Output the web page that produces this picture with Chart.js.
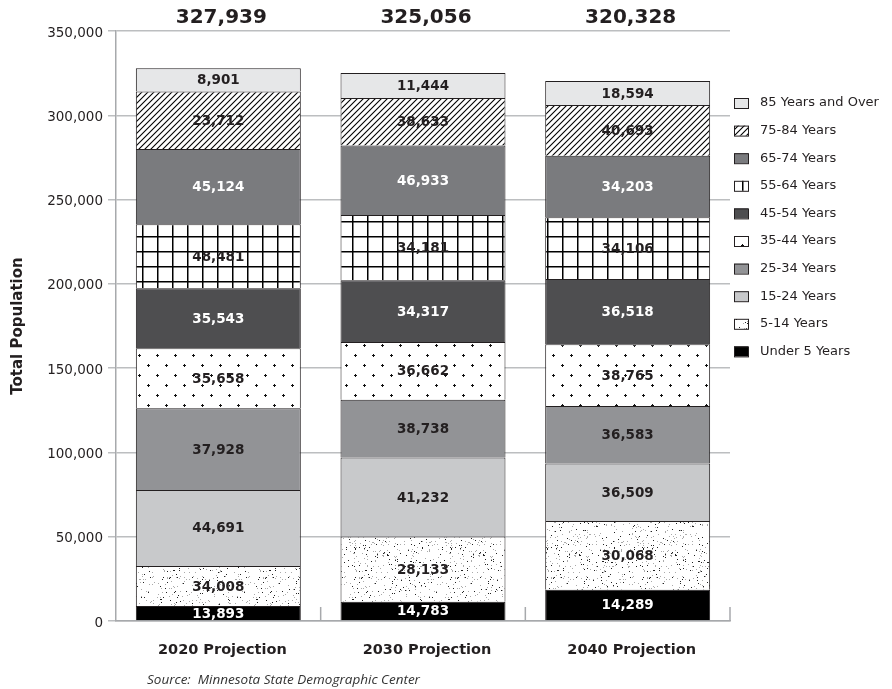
<!DOCTYPE html>
<html>
<head>
<meta charset="utf-8">
<script src="https://cdn.jsdelivr.net/npm/chart.js@4.4.1/dist/chart.umd.min.js"></script>
<style>
  body { margin: 0; background: #fff; }
  canvas { display: block; }
</style>
</head>
<body>
<canvas id="myChart" width="892" height="689"></canvas>
<script>
// categories
var years = ['2020 Projection', '2030 Projection', '2040 Projection'];
var ageGroups = ['Under 5 Years', '5-14 Years', '15-24 Years', '25-34 Years', '35-44 Years',
                 '45-54 Years', '55-64 Years', '65-74 Years', '75-84 Years', '85 Years and Over'];

// values printed in the segments (2020, 2030, 2040)
var under5   = [13893, 14783, 14289];
var age5_14  = [34008, 28133, 30068];
var age15_24 = [44691, 41232, 36509];
var age25_34 = [37928, 38738, 36583];
var age35_44 = [35658, 36662, 38765];
var age45_54 = [35543, 34317, 36518];
var age55_64 = [48481, 34181, 34106];
var age65_74 = [45124, 46933, 34203];
var age75_84 = [23712, 38633, 40693];
var age85up  = [8901, 11444, 18594];
var totals   = [327939, 325056, 320328];

var yTicks = [0, 50000, 100000, 150000, 200000, 250000, 300000, 350000];

var series = [under5, age5_14, age15_24, age25_34, age35_44, age45_54, age55_64, age65_74, age75_84, age85up];

var FONT = "'DejaVu Sans', sans-serif";
var INK = '#231f20';

// --- fill patterns ---
function tile(w, h, draw) {
    var c = document.createElement('canvas');
    c.width = w; c.height = h;
    var g = c.getContext('2d');
    g.fillStyle = '#fff';
    g.fillRect(0, 0, w, h);
    draw(g);
    return document.createElement('canvas').getContext('2d').createPattern(c, 'repeat');
}

var stipple = tile(96, 96, function (g) {
    var s = 12345;
    function rnd() { s = (s * 1103515245 + 12345) % 2147483648; return s / 2147483648; }
    for (var i = 0; i < 560; i++) {
        var x = Math.floor(rnd() * 96), y = Math.floor(rnd() * 96);
        g.fillStyle = rnd() < 0.35 ? '#222' : '#aaa';
        g.fillRect(x, y, 1, 1);
    }
});

var crosses = tile(18, 20, function (g) {
    g.strokeStyle = '#111';
    g.lineWidth = 1;
    [[4.5, 5.5], [13.5, 15.5]].forEach(function (p) {
        g.beginPath();
        g.moveTo(p[0] - 1.5, p[1]); g.lineTo(p[0] + 1.5, p[1]);
        g.moveTo(p[0], p[1] - 1.5); g.lineTo(p[0], p[1] + 1.5);
        g.stroke();
    });
});

var gridFill = tile(15, 15, function (g) {
    g.fillStyle = '#000';
    g.fillRect(7, 0, 1.5, 15);
    g.fillRect(0, 11, 15, 1.5);
});

var hatch = tile(6, 6, function (g) {
    g.strokeStyle = '#000';
    g.lineWidth = 1.1;
    g.beginPath();
    g.moveTo(0, 6); g.lineTo(6, 0);
    g.moveTo(-1, 1); g.lineTo(1, -1);
    g.moveTo(5, 7); g.lineTo(7, 5);
    g.stroke();
});

var fills = ['#000000', stipple, '#c8c9cb', '#929396', crosses,
             '#4e4e50', gridFill, '#7a7b7e', hatch, '#e6e7e8'];
var labelColors = ['#fff', INK, INK, INK, INK, '#fff', INK, '#fff', INK, INK];

// the source graphic stacks each segment at the height of its mirror-image group
// (top group's value at the bottom), while the printed numbers follow the legend order
var datasets = ageGroups.map(function (name, i) {
    return {
        label: name,
        data: series[series.length - 1 - i],
        backgroundColor: fills[i],
        borderColor: INK,
        borderWidth: 1,
        barPercentage: 0.806,
        categoryPercentage: 1
    };
});

var segmentLabels = {
    id: 'segmentLabels',
    afterDatasetsDraw: function (chart) {
        var ctx = chart.ctx;
        ctx.save();
        ctx.textAlign = 'center';
        ctx.textBaseline = 'middle';
        ctx.font = 'bold 13.5px ' + FONT;
        chart.data.datasets.forEach(function (ds, i) {
            chart.getDatasetMeta(i).data.forEach(function (bar, j) {
                ctx.fillStyle = labelColors[i];
                ctx.fillText(series[i][j].toLocaleString('en-US'), bar.x, (bar.y + bar.base) / 2 + 1);
            });
        });
        // totals above the bars
        ctx.font = 'bold 20px ' + FONT;
        ctx.fillStyle = INK;
        var meta = chart.getDatasetMeta(0);
        meta.data.forEach(function (bar, j) {
            ctx.fillText(totals[j].toLocaleString('en-US'), bar.x + 3, 18);
        });
        ctx.restore();
    }
};

var extras = {
    id: 'extras',
    afterDraw: function (chart) {
        var ctx = chart.ctx, a = chart.chartArea;
        ctx.save();
        // short category dividers on the x axis
        ctx.strokeStyle = '#a7a9ac';
        ctx.lineWidth = 1.5;
        for (var k = 1; k <= 3; k++) {
            var x = a.left + k * (a.right - a.left) / 3;
            ctx.beginPath();
            ctx.moveTo(x, a.bottom);
            ctx.lineTo(x, a.bottom - 14);
            ctx.stroke();
        }
        // legend, top group first
        ctx.font = '13px ' + FONT;
        ctx.textBaseline = 'middle';
        ctx.textAlign = 'left';
        for (var i = ageGroups.length - 1, n = 0; i >= 0; i--, n++) {
            var y = 103 + n * 27.6;
            ctx.fillStyle = fills[i];
            ctx.fillRect(734, y - 5, 14, 10);
            ctx.strokeStyle = INK;
            ctx.lineWidth = 1;
            ctx.strokeRect(734.5, y - 4.5, 14, 10);
            ctx.fillStyle = INK;
            ctx.fillText(ageGroups[i], 760, y);
        }
        // source note
        ctx.font = 'italic 13.5px "Open Sans", sans-serif';
        ctx.fillStyle = '#333';
        ctx.fillText('Source:  Minnesota State Demographic Center', 147, 680);
        ctx.restore();
    }
};

var ctx = document.getElementById('myChart');

var myChart = new Chart(ctx, {
    type: 'bar',
    data: {
        labels: years,
        datasets: datasets
    },
    options: {
        responsive: false,
        animation: false,
        layout: { padding: { top: 31, right: 162, bottom: 0, left: 0 } },
        plugins: {
            legend: { display: false },
            tooltip: { enabled: false }
        },
        scales: {
            x: {
                stacked: true,
                grid: { display: false },
                border: { color: '#a7a9ac', width: 1.5 },
                ticks: { color: INK, font: { family: FONT, size: 14.5, weight: 'bold' }, padding: 13, labelOffset: 4 },
                afterFit: function (s) { s.height = 68; }
            },
            y: {
                stacked: true,
                min: 0,
                max: 350000,
                afterBuildTicks: function (s) { s.ticks = yTicks.map(function (v) { return { value: v }; }); },
                ticks: {
                    color: INK,
                    font: { family: FONT, size: 13.5 },
                    padding: 5,
                    labelOffset: 2,
                    callback: function (v) { return v.toLocaleString('en-US'); }
                },
                grid: { color: '#bcbec0', lineWidth: 1.5, tickLength: 8 },
                border: { color: '#a7a9ac', width: 1.5 },
                title: {
                    display: true,
                    text: 'Total Population',
                    color: INK,
                    font: { family: FONT, size: 15, weight: 'bold' },
                    padding: { top: 9, bottom: 0 }
                },
                afterFit: function (s) { s.width = 116; }
            }
        }
    },
    plugins: [segmentLabels, extras]
});
</script>
</body>
</html>
